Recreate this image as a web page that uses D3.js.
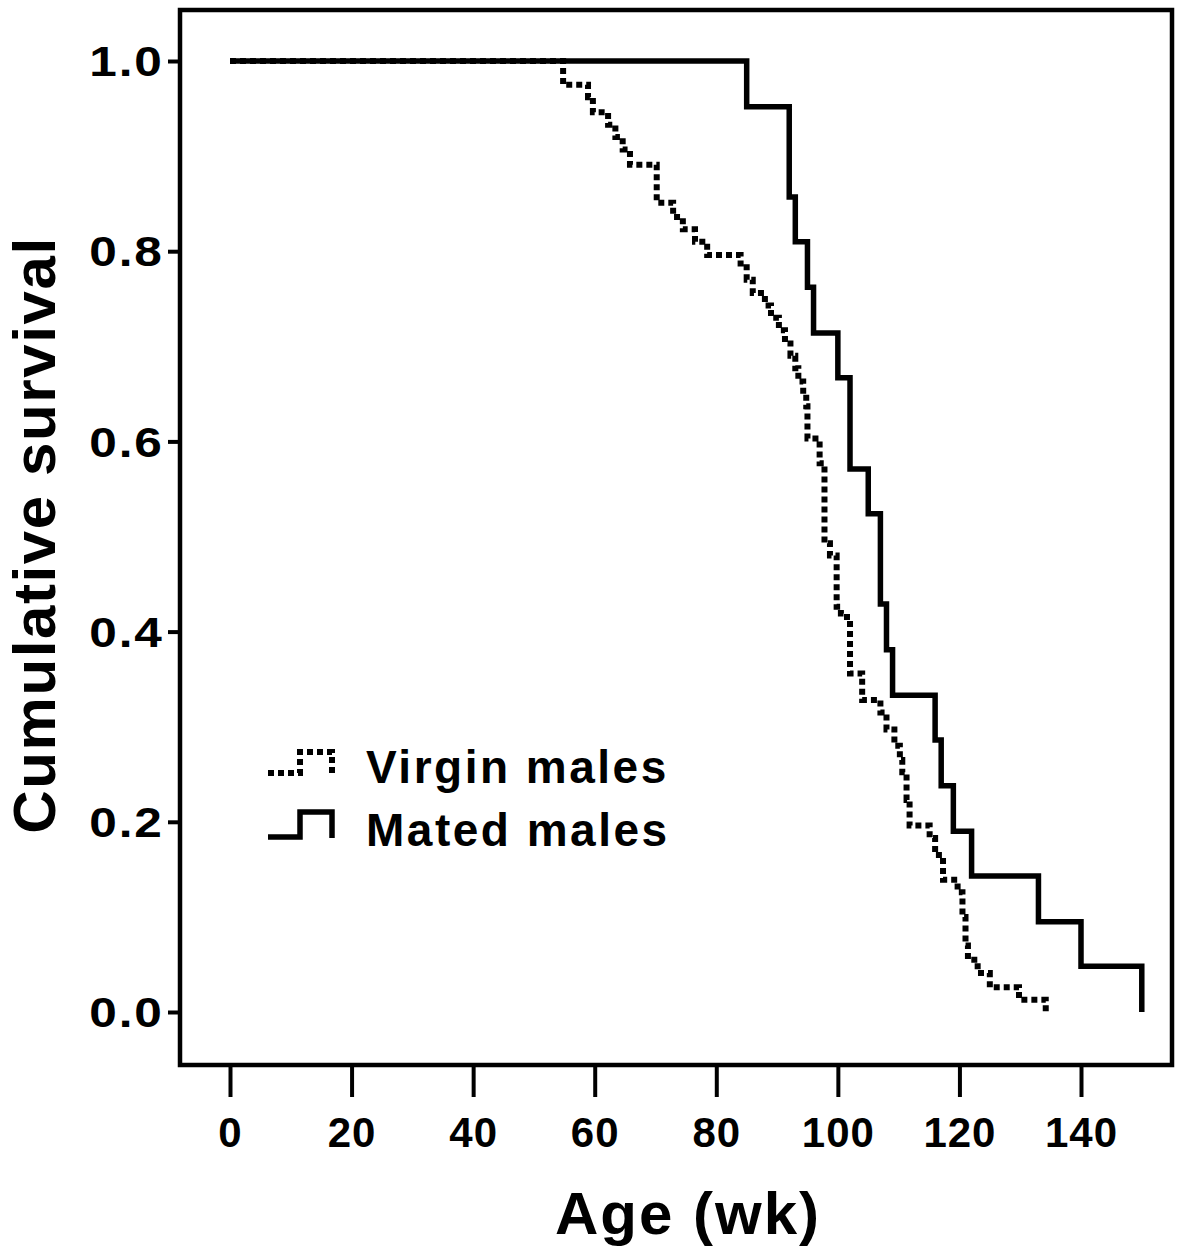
<!DOCTYPE html>
<html>
<head>
<meta charset="utf-8">
<script src="https://cdn.jsdelivr.net/npm/d3@7/dist/d3.min.js"></script>
<style>
  body { margin: 0; background: #fff; }
  text { font-family: "Liberation Sans", Arial, sans-serif; font-weight: bold; fill: #000; }
</style>
</head>
<body>
<svg id="chart" width="1200" height="1260"></svg>
<script>
'use strict';

// Kaplan-Meier steps: week of the drop, survival after it
var matedWeeks    = [0, 85, 92, 93, 95, 96, 100, 102, 105, 107, 108, 109, 116, 117, 119, 122, 133, 140, 150];
var matedSurvival = [1, 0.952, 0.857, 0.810, 0.762, 0.714, 0.667, 0.571, 0.524, 0.429, 0.381, 0.333,
                     0.286, 0.238, 0.190, 0.143, 0.095, 0.048, 0];

var virginWeeks    = [0, 54.8, 58.9, 59.7, 62.2, 63.4, 64.6, 65.8, 70.2, 72.9, 74.5, 76.5, 78.5,
                      84.0, 85.0, 86.0, 88.0, 89.0, 90.3, 91.3, 92.2, 93.0, 93.5, 94.3, 94.8, 95.0,
                      97.0, 97.8, 98.7, 99.8, 100.5, 101.5, 102.0, 104.0, 107.0, 108.0, 109.3, 110.2,
                      110.6, 111.3, 111.8, 115.1, 116.0, 117.3, 119.7, 120.5, 121.0, 121.4, 123.0,
                      125.0, 129.8, 134.2];
var virginSurvival = [1, 0.975, 0.962, 0.946, 0.933, 0.920, 0.907, 0.891, 0.851, 0.836, 0.823, 0.810, 0.796,
                      0.783, 0.770, 0.756, 0.743, 0.730, 0.717, 0.703, 0.690, 0.677, 0.663, 0.650, 0.637, 0.603,
                      0.577, 0.493, 0.480, 0.426, 0.419, 0.412, 0.356, 0.328, 0.315, 0.297, 0.280, 0.265,
                      0.252, 0.223, 0.196, 0.183, 0.165, 0.139, 0.126, 0.100, 0.070, 0.055, 0.041,
                      0.026, 0.013, 0];

var xTicks = [0, 20, 40, 60, 80, 100, 120, 140];
var yTicks = [0, 0.2, 0.4, 0.6, 0.8, 1.0];

var svg = d3.select('#chart');

var x = d3.scaleLinear().domain([0, 140]).range([230, 1081]);
var y = d3.scaleLinear().domain([0, 1]).range([1012, 61]);

var box = { left: 180, top: 10, right: 1172, bottom: 1065 };

// Frame round the plot
svg.append('rect')
  .attr('x', box.left)
  .attr('y', box.top)
  .attr('width', box.right - box.left)
  .attr('height', box.bottom - box.top)
  .attr('fill', 'none')
  .attr('stroke', '#000')
  .attr('stroke-width', 4.5);

// x axis: long ticks hanging below the frame
var xAxis = d3.axisBottom(x).tickValues(xTicks).tickSize(32).tickPadding(16).tickFormat(d3.format('d'));
var gx = svg.append('g').attr('transform', 'translate(0,' + box.bottom + ')').call(xAxis);
gx.select('.domain').remove();
gx.selectAll('line').attr('stroke', '#000').attr('stroke-width', 4);
gx.selectAll('text').style('font-size', '42px').style('letter-spacing', '1px').attr('dy', '0.8em');

// y axis (labels a little wider than the font, as in the original)
var yAxis = d3.axisLeft(y).tickValues(yTicks).tickSize(12).tickPadding(2).tickFormat(d3.format('.1f'));
var gy = svg.append('g').attr('transform', 'translate(' + box.left + ',0)').call(yAxis);
gy.select('.domain').remove();
gy.selectAll('line').attr('stroke', '#000').attr('stroke-width', 4);
gy.selectAll('text')
  .style('font-size', '42px')
  .style('letter-spacing', '1.5px')
  .attr('dy', '0.35em')
  .attr('transform', 'scale(1.18,1)');

// Survival curves
var line = d3.line()
  .x(function(d) { return x(d[0]); })
  .y(function(d) { return y(d[1]); })
  .curve(d3.curveStepAfter);

var mated = d3.zip(matedWeeks, matedSurvival);
var virgin = d3.zip(virginWeeks, virginSurvival);

svg.append('path')
  .datum(mated)
  .attr('d', line)
  .attr('fill', 'none')
  .attr('stroke', '#000')
  .attr('stroke-width', 5.5);

svg.append('path')
  .datum(virgin)
  .attr('d', line)
  .attr('fill', 'none')
  .attr('stroke', '#000')
  .attr('stroke-width', 6)
  .attr('stroke-dasharray', '6,4');

// Legend
var legend = svg.append('g');
legend.append('path')
  .attr('d', 'M268,773H300V752H332V775')
  .attr('fill', 'none')
  .attr('stroke', '#000')
  .attr('stroke-width', 6)
  .attr('stroke-dasharray', '6,4');
legend.append('path')
  .attr('d', 'M268,837H300V812H332V838')
  .attr('fill', 'none')
  .attr('stroke', '#000')
  .attr('stroke-width', 5.5);
legend.append('text').attr('x', 366).attr('y', 783).style('font-size', '46px').style('letter-spacing', '2.5px').text('Virgin males');
legend.append('text').attr('x', 366).attr('y', 846).style('font-size', '46px').style('letter-spacing', '2.5px').text('Mated males');

// Axis titles
svg.append('text')
  .attr('x', 688)
  .attr('y', 1234)
  .attr('text-anchor', 'middle')
  .style('font-size', '60px')
  .style('letter-spacing', '2px')
  .text('Age (wk)');

svg.append('text')
  .attr('transform', 'translate(55,' + 535 + ') rotate(-90)')
  .attr('text-anchor', 'middle')
  .style('font-size', '60px')
  .style('letter-spacing', '1.6px')
  .text('Cumulative survival');
</script>
</body>
</html>
